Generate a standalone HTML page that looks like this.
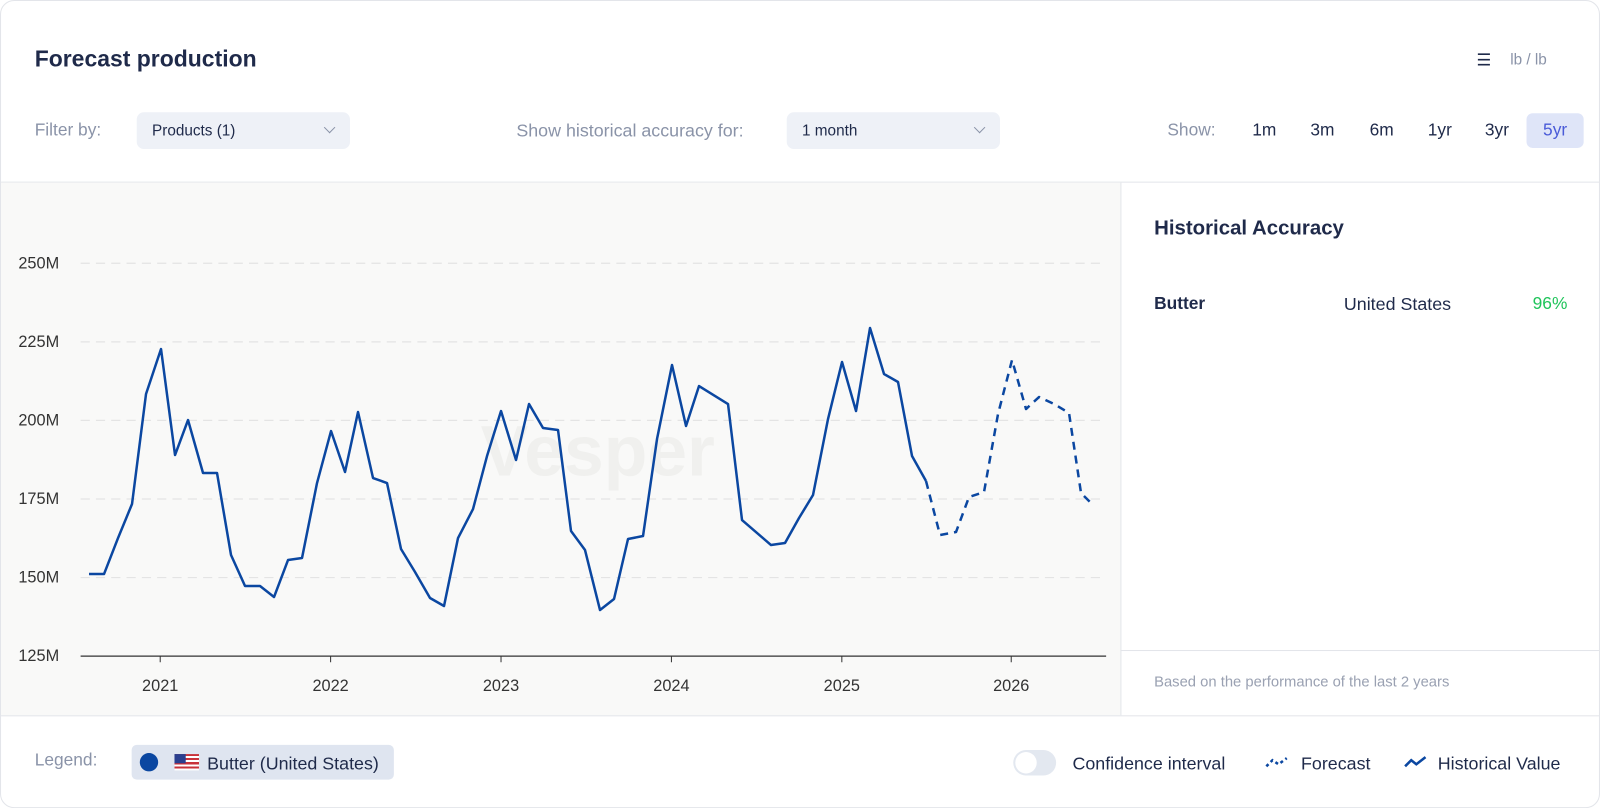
<!DOCTYPE html>
<html><head><meta charset="utf-8"><style>
*{margin:0;padding:0;box-sizing:border-box}
body{width:1600px;height:808px;background:#fff;font-family:"Liberation Sans",sans-serif;position:relative;overflow:hidden}
.wrap{position:absolute;left:0;top:0;width:1568px;height:792px;transform:scale(1.020408);transform-origin:0 0}
.card{position:absolute;left:0;top:0;width:1568px;height:792px;border:1px solid #e3e5ea;border-radius:14px;overflow:hidden;background:#fff}
.t{position:absolute;white-space:nowrap}
.sel{position:absolute;background:#eef1f7;border-radius:7px;height:36px;font-size:15px;color:#1f2a4a;padding:10px 15px}
.chev{position:absolute;right:16px;top:11px;width:8px;height:8px;border-right:1.5px solid #8a93a8;border-bottom:1.5px solid #8a93a8;transform:rotate(45deg)}
.rng{position:absolute;top:110px;height:34px;font-size:17px;color:#1f2a4a;text-align:center;line-height:34px;width:56px;border-radius:6px}
</style></head><body><div class="wrap"><div class="card">
<div class="t" style="left:33px;top:44px;font-size:22.5px;font-weight:bold;color:#1f2a4a">Forecast production</div>
<div class="t" style="left:1446px;top:48px;font-size:16px;color:#1f2a4a">☰</div>
<div class="t" style="left:1479px;top:49px;font-size:15px;color:#8a93a8">lb / lb</div>
<div class="t" style="left:33px;top:117px;font-size:17px;color:#8a93a8">Filter by:</div>
<div class="sel" style="left:133px;top:109px;width:209px">Products (1)<div class="chev"></div></div>
<div class="t" style="left:505px;top:117px;font-size:17.5px;color:#8a93a8">Show historical accuracy for:</div>
<div class="sel" style="left:770px;top:109px;width:209px">1 month<div class="chev"></div></div>
<div class="t" style="left:1143px;top:117px;font-size:17px;color:#8a93a8">Show:</div>
<div class="rng" style="left:1210px">1m</div><div class="rng" style="left:1267px">3m</div><div class="rng" style="left:1325px">6m</div><div class="rng" style="left:1382px">1yr</div><div class="rng" style="left:1438px">3yr</div><div class="rng" style="left:1495px;background:#dfe5f8;color:#4a5bd8">5yr</div>
<div style="position:absolute;left:0;top:177px;width:1568px;border-top:1px solid #e3e5ea"></div>
<div style="position:absolute;left:0;top:178px;width:1097px;height:522px;background:#f9f9f8"></div>
<div style="position:absolute;left:1097px;top:178px;height:522px;border-left:1px solid #e3e5ea"></div>
<div style="position:absolute;left:0;top:700px;width:1568px;border-top:1px solid #e3e5ea"></div>
<div style="position:absolute;left:1097px;top:636px;width:471px;border-top:1px solid #e3e5ea"></div>
<div class="t" style="left:1130px;top:212px;font-size:20px;font-weight:bold;color:#1f2a4a">Historical Accuracy</div>
<div class="t" style="left:1130px;top:287px;font-size:17px;font-weight:bold;color:#1f2a4a">Butter</div>
<div class="t" style="left:1316px;top:287px;font-size:17.5px;color:#1f2a4a">United States</div>
<div class="t" style="left:1501px;top:287px;font-size:17px;color:#1fc45a">96%</div>
<div class="t" style="left:1130px;top:660px;font-size:14.5px;color:#9aa1b2">Based on the performance of the last 2 years</div>
<svg style="position:absolute;left:0;top:178px" width="1097" height="522" viewBox="0 178 1097 522">
<g stroke="#e4e4e4" stroke-dasharray="9,6" stroke-width="1.2">
<line x1="78" x2="1083" y1="257" y2="257"/><line x1="78" x2="1083" y1="334" y2="334"/><line x1="78" x2="1083" y1="411" y2="411"/><line x1="78" x2="1083" y1="488" y2="488"/><line x1="78" x2="1083" y1="565" y2="565"/></g>
<line x1="78" x2="1083" y1="642" y2="642" stroke="#333" stroke-width="1.2"/>
<g font-size="16" fill="#333" font-family="Liberation Sans,sans-serif">
<text x="57" y="262" text-anchor="end">250M</text><text x="57" y="339" text-anchor="end">225M</text><text x="57" y="416" text-anchor="end">200M</text><text x="57" y="493" text-anchor="end">175M</text><text x="57" y="570" text-anchor="end">150M</text><text x="57" y="647" text-anchor="end">125M</text>
<g text-anchor="middle"><text x="156" y="676">2021</text><text x="323" y="676">2022</text><text x="490" y="676">2023</text><text x="657" y="676">2024</text><text x="824" y="676">2025</text><text x="990" y="676">2026</text></g></g>
<g stroke="#333"><line x1="156" x2="156" y1="642" y2="648"/><line x1="323" x2="323" y1="642" y2="648"/><line x1="490" x2="490" y1="642" y2="648"/><line x1="657" x2="657" y1="642" y2="648"/><line x1="824" x2="824" y1="642" y2="648"/><line x1="990" x2="990" y1="642" y2="648"/></g>
<text x="470" y="465" font-size="70" font-weight="bold" fill="#f0f0ee" font-family="Liberation Sans,sans-serif">Vesper</text>
<g transform="scale(0.98)">
<polyline fill="none" stroke="#0b47a1" stroke-width="2.5" stroke-linejoin="round" points="88,573 103,573 117,537 131,503 145,393 160,348 174,454 187,419 202,472 216,472 230,554 244,585 259,585 273,596 287,559 301,557 316,482 330,430 344,471 357,411 372,477 386,482 400,548 414,571 429,597 443,605 457,537 472,508 486,455 500,410 515,459 528,403 542,427 557,429 570,530 584,549 599,609 613,598 627,538 642,535 656,438 671,364 685,425 698,385 727,403 741,519 770,544 784,542 798,517 812,494 827,418 841,361 855,410 869,327 883,373 897,381 911,455 925,480"/>
<polyline fill="none" stroke="#0b47a1" stroke-width="2.5" stroke-dasharray="8,6" stroke-linejoin="round" points="925,480 939,534 955,531 968,496 983,491 997,413 1011,359 1025,408 1038,396 1053,403 1068,412 1080,492 1090,502"/>
</g>
</svg>
<div class="t" style="left:33px;top:734px;font-size:17px;color:#8a93a8">Legend:</div>
<div style="position:absolute;left:128px;top:729px;width:257px;height:34px;background:#dfe5f0;border-radius:5px"></div>
<div style="position:absolute;left:136px;top:737px;width:18px;height:18px;border-radius:50%;background:#0b47a1"></div>
<div style="position:absolute;left:170px;top:738px;width:24px;height:16px;background:repeating-linear-gradient(#c8323a 0 2px,#fff 2px 4px)"><div style="width:11px;height:9px;background:#2a3f8f"></div></div>
<div class="t" style="left:202px;top:737px;font-size:17.5px;color:#1f2a4a">Butter (United States)</div>
<div style="position:absolute;left:992px;top:734px;width:42px;height:25px;border-radius:13px;background:#e3e8f0"><div style="position:absolute;left:2px;top:2px;width:21px;height:21px;border-radius:50%;background:#fff"></div></div>
<div class="t" style="left:1050px;top:737px;font-size:17.5px;color:#1f2a4a">Confidence interval</div>
<svg style="position:absolute;left:1238px;top:738px" width="26" height="16"><polyline points="2,12 8,6 14,10 22,4" fill="none" stroke="#0b47a1" stroke-width="2.5" stroke-dasharray="3,3"/></svg>
<div class="t" style="left:1274px;top:737px;font-size:17.5px;color:#1f2a4a">Forecast</div>
<svg style="position:absolute;left:1374px;top:738px" width="26" height="16"><polyline points="2,12 8,6 13,10 22,3" fill="none" stroke="#0b47a1" stroke-width="2.5"/></svg>
<div class="t" style="left:1408px;top:737px;font-size:17.5px;color:#1f2a4a">Historical Value</div>
</div></div></body></html>
